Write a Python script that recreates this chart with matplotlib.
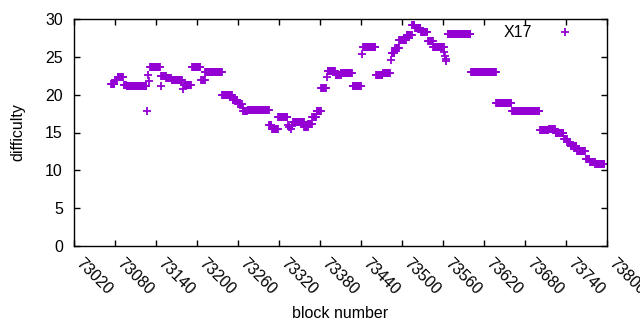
import numpy as np
import matplotlib
matplotlib.use("Agg")
import matplotlib.pyplot as plt
import matplotlib.transforms as mtransforms

plt.rcParams['font.family'] = ['Liberation Sans', 'DejaVu Sans']

# runs of equal difficulty: first block, last block, difficulty
seg_start = [73074, 73080, 73084, 73093, 73097, 73127, 73129, 73130, 73131, 73147,
             73148, 73155, 73163, 73179, 73181, 73193, 73206, 73212, 73237, 73252,
             73260, 73267, 73268, 73274, 73306, 73310, 73319, 73333, 73335, 73337,
             73339, 73341, 73342, 73357, 73363, 73369, 73375, 73382, 73390, 73391,
             73403, 73411, 73428, 73441, 73443, 73462, 73472, 73484, 73485, 73490,
             73496, 73507, 73515, 73519, 73528, 73538, 73546, 73562, 73563, 73564,
             73565, 73567, 73601, 73638, 73661, 73702, 73715, 73725, 73737, 73742,
             73747, 73756, 73769, 73775, 73783]
seg_end = [73079, 73083, 73091, 73096, 73126, 73127, 73129, 73130, 73146, 73147,
           73154, 73162, 73178, 73179, 73191, 73205, 73211, 73236, 73251, 73259,
           73266, 73267, 73273, 73305, 73309, 73318, 73332, 73333, 73335, 73337,
           73339, 73341, 73356, 73362, 73368, 73374, 73381, 73389, 73390, 73402,
           73410, 73427, 73440, 73441, 73461, 73471, 73482, 73484, 73489, 73495,
           73506, 73514, 73518, 73527, 73537, 73545, 73561, 73562, 73563, 73564,
           73565, 73600, 73637, 73660, 73701, 73714, 73724, 73736, 73741, 73746,
           73755, 73768, 73774, 73782, 73796]
seg_value = [21.4, 22.0, 22.4, 21.3, 21.2, 17.9, 22.6, 21.8, 23.6, 21.2,
             22.5, 22.2, 22.0, 20.8, 21.3, 23.65, 22.0, 23.05, 20.0, 19.3,
             18.8, 18.3, 17.9, 18.0, 16.0, 15.5, 17.1, 16.0, 15.7, 15.5,
             15.9, 16.4, 16.4, 15.7, 16.1, 17.0, 17.9, 20.9, 22.3, 23.1,
             22.6, 22.9, 21.15, 25.4, 26.3, 22.6, 22.85, 24.6, 25.5, 26.2,
             27.2, 27.9, 29.15, 28.8, 28.25, 27.05, 26.3, 25.6, 25.1, 24.5,
             24.7, 28.0, 23.0, 18.9, 17.9, 15.35, 15.5, 15.0, 14.2, 13.7,
             13.2, 12.6, 11.5, 11.15, 10.8]

x_ticks = list(range(73020, 73801, 60))
y_ticks = [0, 5, 10, 15, 20, 25, 30]

# one point per block
blocks = []
diff = []
for s, e, v in zip(seg_start, seg_end, seg_value):
    for b in range(s, e + 1):
        blocks.append(b)
        diff.append(v)

fig = plt.figure(figsize=(6.4, 3.3), dpi=100)
ax = fig.add_axes([74 / 640, 1 - 246 / 330, 533 / 640, 227 / 330])

ax.plot(blocks, diff, linestyle='none', marker='+', color='#9400d3',
        markersize=5.5, markeredgewidth=1.3, label='X17')

ax.set_xlim(73020, 73800)
ax.set_ylim(0, 30)
ax.set_xticks(x_ticks)
ax.set_yticks(y_ticks)
ax.set_xticklabels([str(t) for t in x_ticks], rotation=-45, ha='left', va='center',
                   rotation_mode='anchor')
ax.tick_params(direction='in', length=4, width=1, top=True, right=True,
               labelsize=11.5, colors='black')
ax.tick_params(axis='x', pad=13)
ax.tick_params(axis='y', pad=8)
for sp in ax.spines.values():
    sp.set_linewidth(1)

# nudge rotated labels so they start just right of the tick, like gnuplot
shift = mtransforms.ScaledTranslation(4 / 100, 3 / 100, fig.dpi_scale_trans)
for lbl in ax.get_xticklabels():
    lbl.set_transform(lbl.get_transform() + shift)

ax.set_xlabel('block number', fontsize=11.5, labelpad=6)
ax.set_ylabel('difficulty', fontsize=11.5, labelpad=14)

ax.legend(loc='center right', bbox_to_anchor=(0.97, 0.94), frameon=False,
          markerfirst=False, handlelength=3.2, handletextpad=0.5,
          borderpad=0, borderaxespad=0, fontsize=11.5)

fig.savefig('out.png', dpi=100)
